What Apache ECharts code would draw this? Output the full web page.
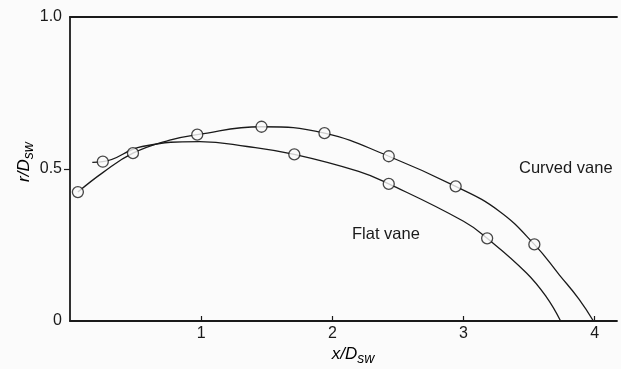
<!DOCTYPE html>
<html>
<head>
<meta charset="utf-8">
<script src="https://cdn.jsdelivr.net/npm/echarts@6/dist/echarts.min.js"></script>
<style>
  html, body { margin: 0; padding: 0; background: #fbfbfb; }
  #chart { width: 621px; height: 369px; }
</style>
</head>
<body>
<div id="chart"></div>
<script>
// fitted curves: [x/Dsw, r/Dsw]
const curvedLine = [
  [0.06, 0.424], [0.25, 0.488], [0.48, 0.552], [0.76, 0.595], [0.97, 0.613],
  [1.46, 0.639], [1.94, 0.618], [2.43, 0.542], [2.94, 0.443],
  [3.27, 0.362], [3.54, 0.252], [3.73, 0.152], [3.88, 0.072], [3.99, 0]
];
const flatLine = [
  [0.17, 0.522], [0.25, 0.524], [0.55, 0.574], [0.99, 0.59], [1.35, 0.574],
  [1.71, 0.548], [2.2, 0.492], [2.43, 0.451], [3.0, 0.328], [3.18, 0.272],
  [3.48, 0.158], [3.63, 0.08], [3.74, 0]
];
// measured points (open circles)
const curvedPts = [
  [0.06, 0.424], [0.48, 0.552], [0.97, 0.613], [1.46, 0.639],
  [1.94, 0.618], [2.43, 0.542], [2.94, 0.443], [3.54, 0.252]
];
const flatPts = [
  [0.25, 0.524], [1.71, 0.548], [2.43, 0.451], [3.18, 0.272]
];
const xTicks = [1, 2, 3, 4];
const yTicks = [0, 0.5, 1.0];

const chart = echarts.init(document.getElementById('chart'));

const font = 'Liberation Sans, Arial, sans-serif';
const ink = '#1a1a1a';

const lineStyle = { color: ink, width: 1.3 };
const dotStyle = { color: '#fbfbfb', borderColor: ink, borderWidth: 1.3 };

const titleRich = {
  a: { fontSize: 17, fontStyle: 'italic', fontFamily: font, color: ink },
  b: { fontSize: 14, fontStyle: 'italic', fontFamily: font, color: ink, padding: [11, 0, 0, 0] }
};

chart.setOption({
  backgroundColor: '#fbfbfb',
  animation: false,
  grid: { left: 70, right: 4, top: 17, bottom: 48 },
  xAxis: [
    {
      type: 'value',
      min: 0,
      max: 4.17,
      interval: 1,
      axisLine: { lineStyle: { color: ink, width: 1.8 } },
      axisTick: { inside: true, length: 5, customValues: xTicks, lineStyle: { color: ink, width: 1.2 } },
      axisLabel: { customValues: xTicks, color: ink, fontSize: 16, fontFamily: font, margin: 5 },
      splitLine: { show: false }
    },
    {
      type: 'value',
      position: 'top',
      min: 0,
      max: 4.17,
      axisLine: { show: true, lineStyle: { color: ink, width: 1.8 } },
      axisTick: { show: false },
      axisLabel: { show: false },
      splitLine: { show: false }
    }
  ],
  yAxis: {
    type: 'value',
    min: 0,
    max: 1,
    interval: 0.5,
    axisLine: { show: true, lineStyle: { color: ink, width: 1.8 } },
    axisTick: { show: true, length: 6, customValues: [0.5], lineStyle: { color: ink, width: 1.2 } },
    axisLabel: {
      customValues: yTicks,
      color: ink,
      fontSize: 16,
      fontFamily: font,
      margin: 8,
      formatter: v => (v === 0 ? '0' : v.toFixed(1))
    },
    splitLine: { show: false }
  },
  graphic: [
    {
      type: 'text',
      x: 519, y: 168,
      style: { text: 'Curved vane', font: '16.5px ' + font, fill: ink, verticalAlign: 'middle' }
    },
    {
      type: 'text',
      x: 352, y: 234,
      style: { text: 'Flat vane', font: '16.5px ' + font, fill: ink, verticalAlign: 'middle' }
    },
    {
      type: 'text',
      x: 353, y: 354,
      style: { text: '{a|x/D}{b|sw}', align: 'center', verticalAlign: 'middle', rich: titleRich }
    },
    {
      type: 'text',
      x: 24, y: 162,
      rotation: Math.PI / 2,
      style: { text: '{a|r/D}{b|sw}', align: 'center', verticalAlign: 'middle', rich: titleRich }
    }
  ],
  series: [
    {
      name: 'Curved vane',
      type: 'line',
      data: curvedLine,
      smooth: 0.45,
      showSymbol: false,
      lineStyle: lineStyle,
      z: 2
    },
    {
      name: 'Flat vane',
      type: 'line',
      data: flatLine,
      smooth: 0.45,
      showSymbol: false,
      lineStyle: lineStyle,
      z: 2
    },
    {
      name: 'Curved vane pts',
      type: 'scatter',
      data: curvedPts,
      symbol: 'circle',
      symbolSize: 11,
      itemStyle: dotStyle,
      z: 3
    },
    {
      name: 'Flat vane pts',
      type: 'scatter',
      data: flatPts,
      symbol: 'circle',
      symbolSize: 11,
      itemStyle: dotStyle,
      z: 3
    }
  ]
});
</script>
</body>
</html>
